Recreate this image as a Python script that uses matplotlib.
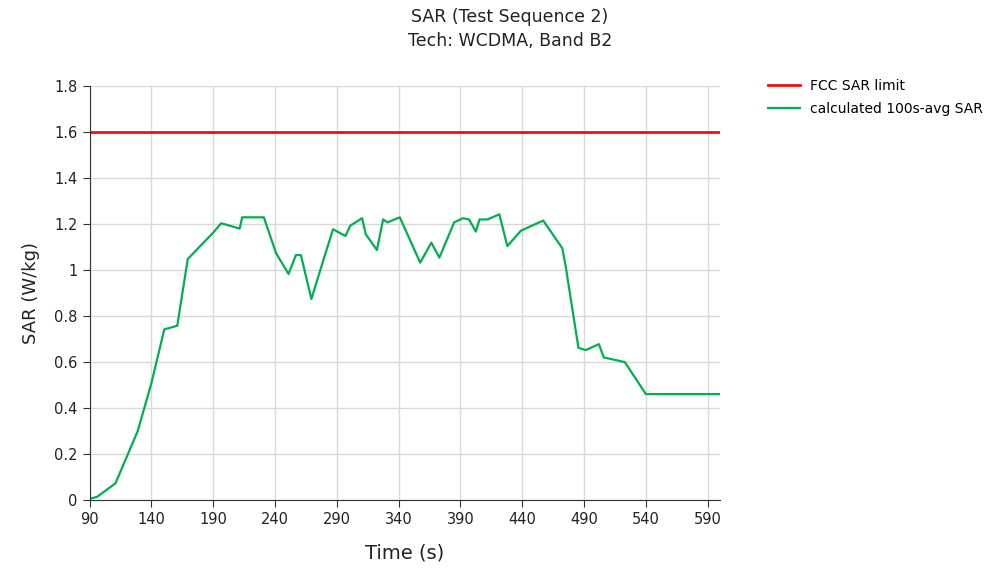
import matplotlib
matplotlib.use("Agg")
import matplotlib.pyplot as plt

# 100s-avg SAR
time_s = [90, 96, 111, 129, 140, 150.5, 161, 169.5, 190, 196.5, 211.5, 213.5, 231, 241, 251,
          257, 261, 269.5, 277.5, 287, 297, 301, 310.5, 313.5, 322.5, 327.5, 331, 341,
          357.5, 366.5, 373, 385, 392, 397, 402.5, 405.5, 412, 421.5, 428, 439, 457,
          472.5, 475, 485.5, 491.5, 502, 506, 523, 540, 600]
sar = [0.006, 0.014, 0.073, 0.30, 0.507, 0.742, 0.758, 1.048, 1.162, 1.203, 1.18, 1.229, 1.229,
       1.072, 0.983, 1.065, 1.065, 0.874, 1.014, 1.177, 1.148, 1.193, 1.225, 1.155, 1.087,
       1.22, 1.207, 1.229, 1.032, 1.119, 1.054, 1.207, 1.225, 1.22, 1.167, 1.22, 1.22,
       1.242, 1.104, 1.171, 1.215, 1.094, 1.022, 0.662, 0.652, 0.678, 0.62, 0.6, 0.461, 0.461]
fcc_limit = 1.6

x_ticks = list(range(90, 600, 50))
y_ticks = [0, 0.2, 0.4, 0.6, 0.8, 1.0, 1.2, 1.4, 1.6, 1.8]
y_labels = ["0", "0.2", "0.4", "0.6", "0.8", "1", "1.2", "1.4", "1.6", "1.8"]

fig = plt.figure(figsize=(10, 5.69), dpi=100)
ax = fig.add_axes([0.0895, 0.121, 0.6305, 0.728])

ax.axhline(fcc_limit, color="#f01010", lw=2, label="FCC SAR limit")
ax.plot(time_s, sar, color="#00b050", lw=1.6, label="calculated 100s-avg SAR")

ax.set_xlim(90, 600)
ax.set_ylim(0, 1.8)
ax.set_xticks(x_ticks)
ax.set_yticks(y_ticks)
ax.set_yticklabels(y_labels)
ax.tick_params(labelsize=10.5, colors="#333333", length=5)
ax.tick_params(axis="both", labelcolor="#222222")
ax.grid(True, color="#d9d9d9", lw=1)
ax.set_axisbelow(True)
for s in ["top", "right"]:
    ax.spines[s].set_visible(False)
for s in ["left", "bottom"]:
    ax.spines[s].set_color("#333333")

ax.set_xlabel("Time (s)", fontsize=14, color="#222222", labelpad=12)
ax.set_ylabel("SAR (W/kg)", fontsize=13, color="#222222", labelpad=10)
fig.text(0.51, 0.949, "SAR (Test Sequence 2)\nTech: WCDMA, Band B2", ha="center", va="center",
         fontsize=12.5, color="#222222", linespacing=1.45)

ax.legend(loc="upper left", bbox_to_anchor=(1.057, 1.047), frameon=False, fontsize=10,
          handlelength=2.3, handletextpad=0.7, labelspacing=0.65)

fig.savefig("out.png", dpi=100)
